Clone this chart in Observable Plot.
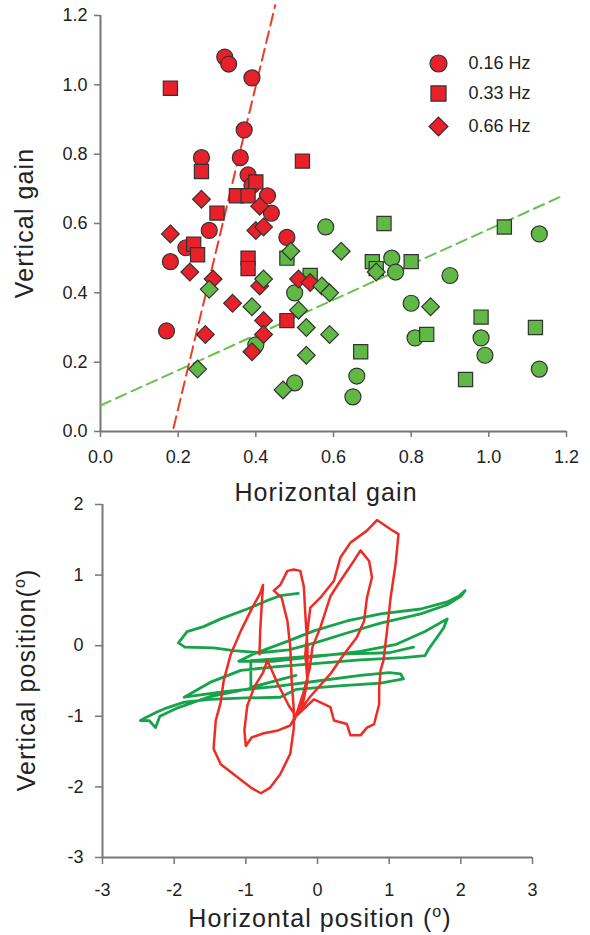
<!DOCTYPE html>
<html><head><meta charset="utf-8">
<script src="https://cdn.jsdelivr.net/npm/d3@7"></script>
<script src="https://cdn.jsdelivr.net/npm/@observablehq/plot@0.6"></script>
<style>
body{margin:0;background:#fff;}
#wrap{position:relative;width:590px;height:935px;font-family:"Liberation Sans",Arial,sans-serif;}
#top,#bot{position:absolute;left:0;}
#top{top:0;} #bot{top:500px;}
svg{overflow:visible}
</style></head><body><div id="wrap"><div id="top"></div><div id="bot"></div></div>
<script>
// ---------- data: top panel (gains) ----------
const freqLabels = ["0.16 Hz", "0.33 Hz", "0.66 Hz"];
const gainTicks = [0, 0.2, 0.4, 0.6, 0.8, 1.0, 1.2];

const redCircH = [0.32,0.33,0.39,0.37,0.26,0.36,0.38,0.39,0.43,0.44,0.28,0.48,0.22,0.18,0.17];
const redCircV = [1.08,1.06,1.02,0.87,0.79,0.79,0.74,0.71,0.68,0.63,0.58,0.56,0.53,0.49,0.29];
const redSqH = [0.18,0.26,0.52,0.40,0.35,0.38,0.30,0.24,0.25,0.38,0.38,0.48];
const redSqV = [0.99,0.75,0.78,0.72,0.68,0.68,0.63,0.54,0.51,0.50,0.47,0.32];
const redDiaH = [0.26,0.41,0.40,0.42,0.18,0.23,0.29,0.41,0.51,0.54,0.34,0.42,0.42,0.27,0.39];
const redDiaV = [0.67,0.65,0.58,0.59,0.57,0.46,0.44,0.42,0.44,0.43,0.37,0.32,0.28,0.28,0.23];

const grnCircH = [0.58,0.50,0.40,0.50,1.13,0.75,0.76,0.90,0.80,0.81,0.98,0.99,0.66,0.65,1.13];
const grnCircV = [0.59,0.40,0.25,0.14,0.57,0.50,0.46,0.45,0.37,0.27,0.27,0.22,0.16,0.10,0.18];
const grnSqH = [0.48,0.54,0.73,1.04,0.70,0.80,0.71,0.98,1.12,0.84,0.67,0.94];
const grnSqV = [0.50,0.45,0.60,0.59,0.49,0.49,0.47,0.33,0.30,0.28,0.23,0.15];
const grnDiaH = [0.49,0.28,0.42,0.39,0.57,0.59,0.51,0.53,0.59,0.53,0.47,0.25,0.62,0.71,0.85];
const grnDiaV = [0.52,0.41,0.44,0.36,0.42,0.40,0.35,0.30,0.28,0.22,0.12,0.18,0.52,0.46,0.36];

// regression lines (end points)
const redFitH = [0.188, 0.45];
const redFitV = [0.01, 1.23];
const grnFitH = [0.0, 1.19];
const grnFitV = [0.075, 0.68];

// ---------- data: bottom panel (positions, deg) ----------
const posTicksX = [-3, -2, -1, 0, 1, 2, 3];
const posTicksY = [-3, -2, -1, 0, 1, 2];

const redPosH = [-0.81,-0.80,-0.78,-0.76,-0.80,-0.91,-1.07,-1.21,-1.31,-1.35,-1.42,-1.45,-1.35,-1.17,-0.93,-0.79,-0.66,-0.52,-0.38,-0.33,-0.33,-0.36,-0.38,-0.42,-0.50,-0.61,-0.52,-0.42,-0.33,-0.24,-0.19,-0.17,-0.14,-0.14,-0.20,-0.30,-0.38,-0.55,-0.75,-0.92,-1.00,-1.02,-0.98,-0.88,-0.76,-0.70,-0.55,-0.40,-0.30,-0.05,0.18,0.23,0.41,0.46,0.60,0.69,0.79,0.86,0.86,0.88,0.92,0.97,1.02,1.09,1.13,1.02,0.83,0.69,0.46,0.32,0.23,0.04,-0.10,-0.14,-0.17,-0.14,-0.20,-0.30,-0.10,0.18,0.37,0.55,0.65,0.69,0.76,0.72,0.60,0.48,0.32,0.18,0.04,-0.07,-0.11,-0.20,-0.32];
const redPosV = [-0.12,0.20,0.55,0.86,0.74,0.54,0.21,-0.12,-0.50,-0.80,-1.06,-1.46,-1.68,-1.82,-2.01,-2.09,-2.01,-1.82,-1.53,-1.16,-0.92,-0.50,-0.02,0.35,0.68,0.78,0.86,1.06,1.08,1.06,0.83,0.45,-0.02,-0.50,-0.80,-0.98,-1.13,-1.20,-1.24,-1.30,-1.42,-1.20,-0.85,-0.58,-0.38,-0.21,-0.55,-0.85,-1.00,-0.76,-0.87,-1.06,-1.11,-1.27,-1.27,-1.16,-1.11,-0.83,-0.59,-0.35,-0.21,0.21,0.68,1.16,1.58,1.65,1.78,1.63,1.46,1.25,0.92,0.68,0.54,0.21,-0.12,-0.50,-0.75,-1.00,-0.72,-0.40,-0.12,0.12,0.35,0.68,0.97,1.20,1.35,1.16,0.92,0.70,0.26,-0.02,-0.33,-0.68,-1.05];

const grnPosH = [-0.27,-0.52,-0.70,-0.98,-1.35,-1.59,-1.82,-1.94,-1.85,-1.45,-1.17,-0.80,-0.40,0.00,0.41,0.88,1.44,1.81,2.00,2.06,1.97,1.81,1.44,0.88,0.41,-0.05,-0.45,-0.90,-1.10,-0.60,0.00,0.60,1.10,1.50,1.81,1.76,1.55,1.50,1.20,0.60,0.00,-0.60,-1.07,-1.50,-1.86,-1.30,-0.60,0.00,0.60,1.00,1.16,1.20,0.88,0.30,-0.30,-0.52,-1.00,-1.50,-1.86,-2.10,-2.24,-2.40,-2.47,-2.35,-2.26,-2.20,-1.95,-1.50,-1.00,-0.60,-0.30,-0.93,-0.93,-0.50,0.30,1.00,1.34];
const grnPosV = [0.74,0.71,0.64,0.52,0.38,0.27,0.20,0.04,-0.02,-0.03,-0.07,-0.10,-0.06,0.05,0.18,0.32,0.45,0.58,0.70,0.78,0.70,0.62,0.52,0.45,0.35,0.21,0.05,-0.12,-0.22,-0.22,-0.15,-0.08,0.02,0.20,0.38,0.25,-0.05,-0.14,-0.17,-0.20,-0.25,-0.30,-0.35,-0.52,-0.73,-0.65,-0.58,-0.50,-0.42,-0.38,-0.40,-0.47,-0.53,-0.57,-0.62,-0.73,-0.74,-0.76,-0.80,-0.88,-0.94,-1.02,-1.06,-1.06,-1.16,-1.00,-0.88,-0.72,-0.62,-0.50,-0.42,-0.59,-0.21,-0.18,-0.12,-0.10,-0.02];

// ---------- styles ----------
const RED = "#E8202A", GRN = "#60B845", EDGE = "#333";
const RED_LINE = "#EE2B24", GRN_LINE = "#16A34A";
const AXIS = "#777", TXT = "#222";
const FONT = "'Liberation Sans', Arial, sans-serif";
const fmt1 = d3.format(".1f");

const pts = (H, V) => H.map((h, i) => ({h, v: V[i]}));
const dot = (H, V, symbol, fill) =>
  Plot.dot(pts(H, V), {x: "h", y: "v", symbol, r: 8, fill, stroke: EDGE, strokeWidth: 1.2});
const diamond = d3.symbolDiamond2;

const legendSymbols = ["circle", "square", diamond];
const legendDy = [48, 78, 111];

const topPlot = Plot.plot({
  width: 590, height: 500,
  marginLeft: 100, marginRight: 24, marginTop: 15, marginBottom: 69,
  style: {fontFamily: FONT, fontSize: "18px", color: TXT, background: "transparent", overflow: "visible"},
  x: {domain: [0, 1.2]},
  y: {domain: [0, 1.2]},
  marks: [
    Plot.axisX({ticks: gainTicks, tickFormat: fmt1, tickSize: 6, tickPadding: 13, stroke: AXIS, strokeWidth: 1.5, fill: TXT, label: null}),
    Plot.axisY({ticks: gainTicks, tickFormat: fmt1, tickSize: 6, tickPadding: 7, stroke: AXIS, strokeWidth: 1.5, fill: TXT, label: null}),
    Plot.ruleX([0], {y1: 0, y2: 1.2, stroke: AXIS, strokeWidth: 2}),
    Plot.ruleY([0], {x1: 0, x2: 1.2, stroke: AXIS, strokeWidth: 2}),
    Plot.line(pts(grnFitH, grnFitV), {x: "h", y: "v", stroke: "#66C24A", strokeWidth: 2, strokeDasharray: "11,6"}),
    Plot.line(pts(redFitH, redFitV), {x: "h", y: "v", stroke: "#F03A24", strokeWidth: 2, strokeDasharray: "12,6"}),
    dot(redCircH, redCircV, "circle", RED),
    dot(redSqH, redSqV, "square", RED),
    dot(grnCircH, grnCircV, "circle", GRN),
    dot(grnSqH, grnSqV, "square", GRN),
    dot(redDiaH, redDiaV, diamond, RED),
    dot(grnDiaH, grnDiaV, diamond, GRN),
    ...freqLabels.flatMap((lab, i) => [
      Plot.dot([lab], {frameAnchor: "top-left", dx: 338, dy: legendDy[i], symbol: legendSymbols[i], r: 8.5, fill: RED, stroke: EDGE, strokeWidth: 1.2}),
      Plot.text([lab], {frameAnchor: "top-left", dx: 368, dy: legendDy[i], text: d => d, textAnchor: "start", lineAnchor: "middle", fontSize: 18, fill: TXT})
    ])
  ]
});
document.getElementById("top").appendChild(topPlot);

const botPlot = Plot.plot({
  width: 590, height: 435,
  marginLeft: 102, marginRight: 58, marginTop: 4, marginBottom: 78,
  style: {fontFamily: FONT, fontSize: "18px", color: TXT, background: "transparent", overflow: "visible"},
  x: {domain: [-3, 3]},
  y: {domain: [-3, 2]},
  marks: [
    Plot.axisX({ticks: posTicksX, tickFormat: d => String(d), tickSize: 7, tickPadding: 19, stroke: AXIS, strokeWidth: 1.5, fill: TXT, label: null}),
    Plot.axisY({ticks: posTicksY, tickFormat: d => String(d), tickSize: 7, tickPadding: 12, stroke: AXIS, strokeWidth: 1.5, fill: TXT, label: null}),
    Plot.ruleX([-3], {y1: -3, y2: 2, stroke: AXIS, strokeWidth: 2}),
    Plot.ruleY([-3], {x1: -3, x2: 3, stroke: AXIS, strokeWidth: 2}),
    Plot.line(pts(grnPosH, grnPosV), {x: "h", y: "v", stroke: GRN_LINE, strokeWidth: 2.8, strokeLinejoin: "round"}),
    Plot.line(pts(redPosH, redPosV), {x: "h", y: "v", stroke: RED_LINE, strokeWidth: 2.5, strokeLinejoin: "round"})
  ]
});
document.getElementById("bot").appendChild(botPlot);

// ---------- axis titles ----------
function title(svg, x, y, rotate, parts) {
  const t = d3.select(svg).append("text")
    .attr("transform", `translate(${x},${y}) rotate(${rotate})`)
    .attr("text-anchor", "middle")
    .attr("font-family", FONT).attr("font-size", 25).attr("letter-spacing", "1.1px")
    .attr("fill", TXT);
  parts.forEach(p => {
    const s = t.append("tspan").text(p.t);
    if (p.sup) s.attr("font-size", 16).attr("dy", -10);
    if (p.down) s.attr("dy", 10);
  });
}
title(topPlot, 326, 501, 0, [{t: "Horizontal gain"}]);
title(topPlot, 33, 223, -90, [{t: "Vertical gain"}]);
title(botPlot, 320, 427, 0, [{t: "Horizontal position ("}, {t: "o", sup: true}, {t: ")", down: true}]);
title(botPlot, 35, 180, -90, [{t: "Vertical position("}, {t: "o", sup: true}, {t: ")", down: true}]);
</script></body></html>
